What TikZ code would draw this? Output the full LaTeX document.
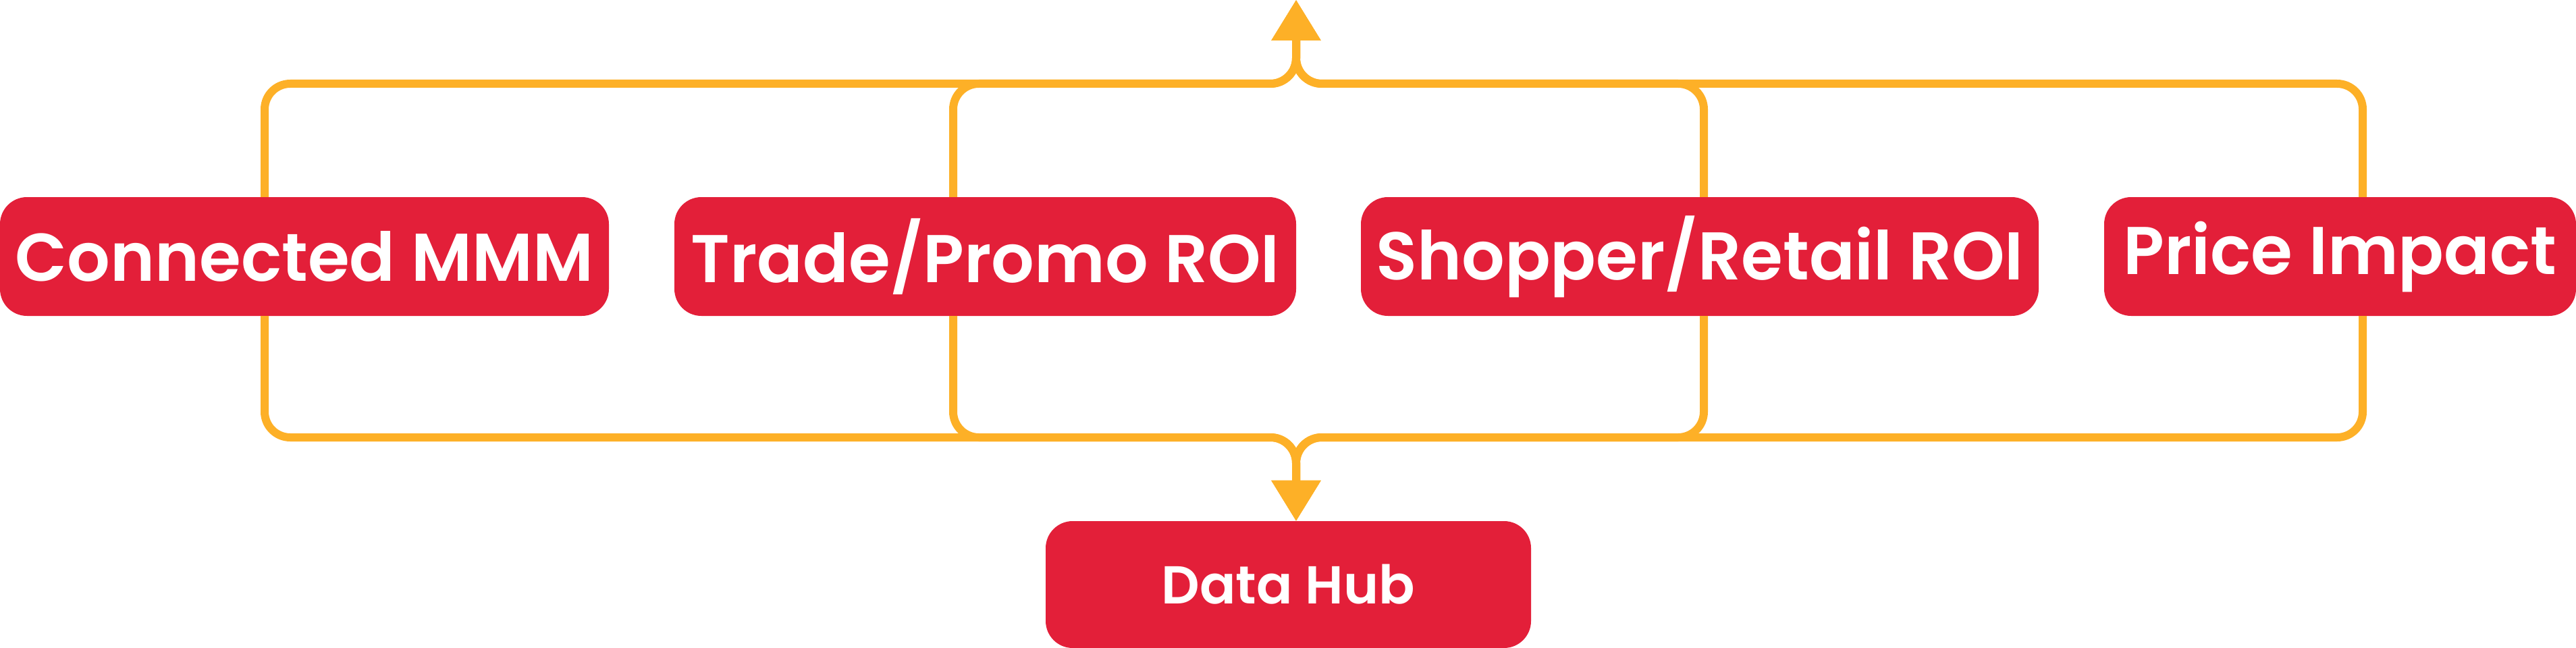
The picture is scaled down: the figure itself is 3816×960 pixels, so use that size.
\documentclass[tikz,border=0pt]{standalone}
\usepackage{fontspec}
\newfontfamily\popfont{Poppins SemiBold}
\usetikzlibrary{arrows.meta}
\definecolor{boxred}{HTML}{E31F39}
\definecolor{lineorange}{HTML}{FDB027}
\begin{document}
\begin{tikzpicture}[x=1pt,y=-1pt,
  box/.style={fill=boxred, draw=none, rounded corners=40pt, text=white, inner sep=0pt,
    minimum height=176pt, font=\popfont\fontsize{100}{120}\selectfont},
  conn/.style={draw=lineorange, line width=12pt, rounded corners=38pt,
    -{Triangle[length=60pt,width=70pt]}}]
\useasboundingbox (0,0) rectangle (3816,960);
% nodes
\node[box, minimum width=902pt] (cmm) at (451,380) {Connected MMM};
\node[box, minimum width=921pt] (tpr) at (1459.5,380) {Trade/Promo ROI};
\node[box, minimum width=1004pt] (srr) at (2518,380) {Shopper/Retail ROI};
\node[box, minimum width=699pt] (pim) at (3466.5,380) {Price Impact};
\node[box, minimum width=719pt, minimum height=188pt, font=\popfont\fontsize{79}{95}\selectfont] (hub) at (1908.5,866) {Data Hub};
% coordinates
\coordinate (tiptop) at (1920,0);
\coordinate (jt) at (1920,124);
\coordinate (jb) at (1920,648);
\coordinate (c1t) at (cmm.north -| 392,0);
\coordinate (c2t) at (tpr.north -| 1412,0);
\coordinate (c3t) at (srr.north -| 2524,0);
\coordinate (c4t) at (pim.north -| 3500,0);
\coordinate (c1b) at (cmm.south -| 392,0);
\coordinate (c2b) at (tpr.south -| 1412,0);
\coordinate (c3b) at (srr.south -| 2524,0);
\coordinate (c4b) at (pim.south -| 3500,0);
\coordinate (hubin) at (hub.north -| jb);
% connectors up
\draw[conn] (c1t) |- (jt) -- (tiptop);
\draw[conn] (c2t) |- (jt) -- (tiptop);
\draw[conn] (c3t) |- (jt) -- (tiptop);
\draw[conn] (c4t) |- (jt) -- (tiptop);
% connectors down
\draw[conn] (c1b) |- (jb) -- (hubin);
\draw[conn] (c2b) |- (jb) -- (hubin);
\draw[conn] (c3b) |- (jb) -- (hubin);
\draw[conn] (c4b) |- (jb) -- (hubin);
\end{tikzpicture}
\end{document}
